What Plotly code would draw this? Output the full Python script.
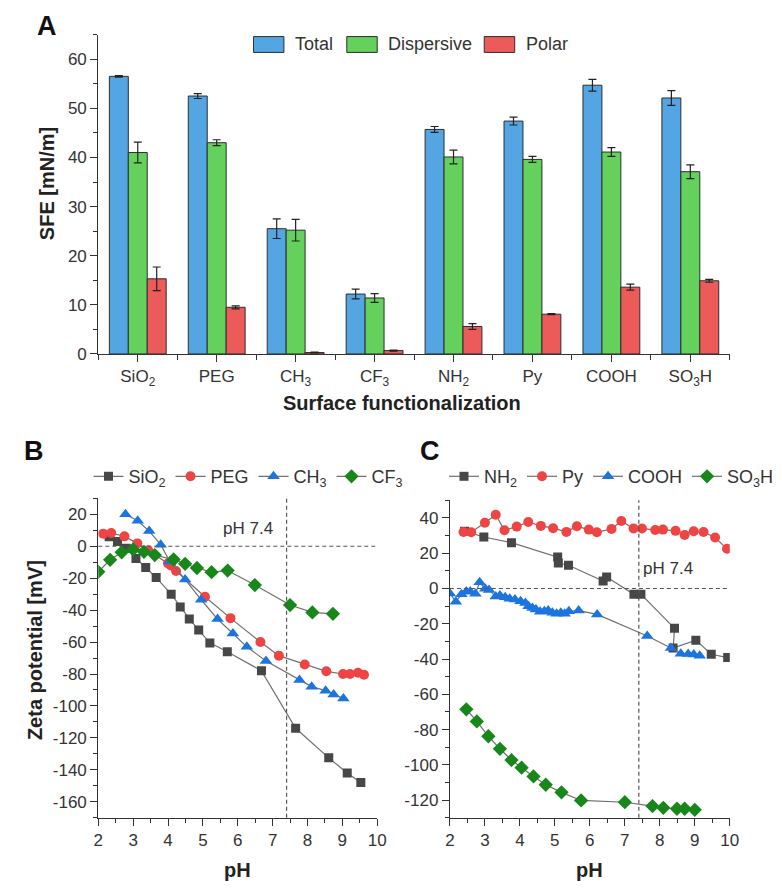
import plotly.graph_objects as go

W, H = 782, 893

# ---- panel A : surface free energy ----
categories = ["SiO<sub>2</sub>", "PEG", "CH<sub>3</sub>", "CF<sub>3</sub>",
              "NH<sub>2</sub>", "Py", "COOH", "SO<sub>3</sub>H"]
sfe_total = [56.5, 52.5, 25.5, 12.2, 45.7, 47.4, 54.7, 52.1]
sfe_total_err = [0.15, 0.5, 2.0, 1.0, 0.6, 0.8, 1.2, 1.5]
sfe_disp = [41.0, 43.0, 25.2, 11.4, 40.1, 39.6, 41.1, 37.1]
sfe_disp_err = [2.1, 0.6, 2.2, 0.9, 1.4, 0.6, 0.9, 1.4]
sfe_polar = [15.3, 9.5, 0.3, 0.7, 5.6, 8.1, 13.6, 14.9]
sfe_polar_err = [2.4, 0.3, 0.1, 0.1, 0.6, 0.1, 0.6, 0.3]

# ---- panel B : zeta potential ----
sio2_ph = [2.31, 2.55, 2.80, 3.08, 3.36, 3.66, 4.09, 4.35, 4.61, 4.88, 5.20, 5.70, 6.68, 7.66, 8.61, 9.14, 9.53]
sio2_zeta = [6.0, 3.0, -1.2, -7.6, -13.3, -19.6, -30.0, -38.0, -45.5, -52.5, -60.5, -66.0, -78.0, -114.0, -132.5, -142.0, -148.0]
peg_ph = [2.14, 2.37, 2.75, 3.12, 3.43, 4.00, 4.08, 4.23, 5.06, 5.79, 6.65, 7.18, 7.92, 8.54, 9.02, 9.22, 9.45, 9.62]
peg_zeta = [7.9, 8.3, 6.2, 1.8, -2.5, -10.7, -12.0, -15.5, -31.6, -45.0, -60.0, -68.5, -74.0, -78.3, -80.0, -80.0, -79.2, -80.5]
ch3_ph = [2.78, 3.13, 3.46, 3.79, 4.05, 4.49, 4.95, 5.42, 5.86, 6.26, 6.81, 7.77, 8.12, 8.52, 8.75, 9.03]
ch3_zeta = [20.0, 16.0, 9.5, 1.0, -9.5, -20.8, -33.5, -45.6, -54.6, -63.0, -71.8, -83.7, -87.9, -90.4, -92.8, -95.3]
cf3_ph = [2.00, 2.34, 2.67, 3.00, 3.31, 3.62, 4.16, 4.49, 4.83, 5.25, 5.71, 6.49, 7.50, 8.14, 8.73]
cf3_zeta = [-16.0, -8.5, -3.8, -2.0, -3.5, -5.5, -8.3, -11.0, -13.6, -16.2, -15.2, -24.3, -36.8, -41.4, -42.3]

# ---- panel C : zeta potential ----
nh2_ph = [2.42, 2.97, 3.76, 5.08, 5.10, 5.39, 6.38, 6.48, 7.26, 7.46, 8.42, 8.38, 9.03, 9.47, 9.94]
nh2_zeta = [32.5, 29.2, 26.0, 17.8, 14.4, 13.2, 4.3, 6.5, -3.3, -3.2, -22.6, -33.8, -29.3, -37.3, -39.2]
py_ph = [2.39, 2.61, 3.00, 3.31, 3.56, 3.91, 4.24, 4.60, 4.95, 5.33, 5.63, 5.97, 6.20, 6.62, 6.90,
         7.25, 7.49, 7.87, 8.09, 8.45, 8.71, 8.97, 9.25, 9.58, 9.92]
py_zeta = [32.0, 31.9, 37.3, 41.8, 33.0, 35.1, 37.7, 35.5, 34.2, 32.1, 35.3, 33.4, 31.9, 33.8, 38.3,
           34.0, 34.0, 33.2, 33.4, 32.7, 30.4, 32.5, 32.0, 28.9, 22.5]
cooh_ph = [2.00, 2.17, 2.33, 2.47, 2.58, 2.73, 2.85, 3.01, 3.12, 3.31, 3.43, 3.58, 3.71, 3.86, 4.02,
           4.16, 4.25, 4.36, 4.46, 4.58, 4.70, 4.81, 4.93, 5.05, 5.17, 5.28, 5.40, 5.68, 6.21,
           7.64, 8.32, 8.60, 8.81, 8.97, 9.14]
cooh_zeta = [-2.8, -7.5, -3.3, -1.7, -1.7, -3.0, 3.5, -0.2, -0.8, -4.5, -3.9, -5.0, -5.8, -6.3, -7.3,
             -8.2, -10.1, -11.0, -11.9, -13.2, -12.9, -12.5, -13.8, -14.3, -13.8, -14.3, -12.9, -12.5, -14.7,
             -26.9, -33.7, -37.0, -37.1, -37.5, -38.2]
so3h_ph = [2.47, 2.77, 3.10, 3.43, 3.76, 4.05, 4.39, 4.74, 5.19, 5.75, 7.00, 7.79, 8.10, 8.49, 8.71, 9.00]
so3h_zeta = [-68.5, -75.4, -83.8, -90.9, -97.3, -101.6, -106.6, -111.3, -115.6, -120.2, -121.2,
             -123.4, -124.4, -124.9, -124.9, -125.5]

ph_ticks = list(range(2, 11))
zeta_b_ticks = list(range(-160, 21, 20))
zeta_c_ticks = list(range(-120, 41, 20))


def px(x):
    return x / W


def py(y):
    return 1 - y / H


FONT = "Liberation Sans, Arial, sans-serif"
AX = "#333333"
LINE = "#707070"

fig = go.Figure()

# bars
xpos = list(range(len(categories)))
bar_specs = [("Total", sfe_total, sfe_total_err, "#53a6e2"),
             ("Dispersive", sfe_disp, sfe_disp_err, "#63d15b"),
             ("Polar", sfe_polar, sfe_polar_err, "#ec5a5a")]
for name, vals, errs, col in bar_specs:
    fig.add_trace(go.Bar(
        x=xpos, y=vals, name=name, showlegend=False,
        marker=dict(color=col, line=dict(color="#2e2e2e", width=1)),
        error_y=dict(type="data", array=errs, color="#222222", thickness=1.2, width=4),
        xaxis="x", yaxis="y"))

# zeta series
def zeta_trace(x, y, name, symbol, color, size, axis, legend):
    return go.Scatter(
        x=x, y=y, name=name, mode="lines+markers",
        line=dict(color=LINE, width=1.2),
        marker=dict(symbol=symbol, color=color, size=size),
        xaxis="x" + axis, yaxis="y" + axis, legend=legend)

fig.add_trace(zeta_trace(sio2_ph, sio2_zeta, "SiO<sub>2</sub>", "square", "#474747", 9, "2", "legend2"))
fig.add_trace(zeta_trace(peg_ph, peg_zeta, "PEG", "circle", "#ef4444", 10, "2", "legend2"))
fig.add_trace(zeta_trace(ch3_ph, ch3_zeta, "CH<sub>3</sub>", "triangle-up", "#1c74e0", 11, "2", "legend2"))
fig.add_trace(zeta_trace(cf3_ph, cf3_zeta, "CF<sub>3</sub>", "diamond", "#17871a", 11, "2", "legend2"))

fig.add_trace(zeta_trace(nh2_ph, nh2_zeta, "NH<sub>2</sub>", "square", "#474747", 9, "3", "legend3"))
fig.add_trace(zeta_trace(py_ph, py_zeta, "Py", "circle", "#ef4444", 10, "3", "legend3"))
fig.add_trace(zeta_trace(cooh_ph, cooh_zeta, "COOH", "triangle-up", "#1c74e0", 11, "3", "legend3"))
fig.add_trace(zeta_trace(so3h_ph, so3h_zeta, "SO<sub>3</sub>H", "diamond", "#17871a", 11, "3", "legend3"))

axis_common = dict(showline=True, linecolor=AX, linewidth=1.2, showgrid=False, zeroline=False,
                   ticks="outside", ticklen=7, tickwidth=1.2, tickcolor=AX,
                   tickfont=dict(size=17, color="#333333"))

fig.update_layout(
    width=W, height=H,
    margin=dict(l=0, r=0, t=0, b=0),
    plot_bgcolor="white", paper_bgcolor="white",
    font=dict(family=FONT, color="#222222"),
    barmode="group", bargap=0.28, bargroupgap=0,
    xaxis=dict(domain=[px(95), px(738)], range=[-0.5, 7.5], anchor="y",
               tickmode="array", tickvals=xpos, ticktext=categories,
               minor=dict(tick0=-0.5, dtick=1, ticks="outside", ticklen=5, tickcolor=AX),
               **axis_common),
    yaxis=dict(domain=[py(358), py(35)], range=[0, 65], anchor="x", dtick=10,
               minor=dict(dtick=5, ticks="outside", ticklen=4, tickcolor=AX),
               **axis_common),
    xaxis2=dict(domain=[px(95), px(379)], range=[2, 10], anchor="y2",
                tickmode="array", tickvals=ph_ticks,
                minor=dict(dtick=0.5, ticks="outside", ticklen=4, tickcolor=AX),
                **axis_common),
    yaxis2=dict(domain=[py(827), py(504)], range=[-170, 30], anchor="x2",
                tickmode="array", tickvals=zeta_b_ticks, ticktext=[str(v) for v in zeta_b_ticks],
                minor=dict(dtick=10, ticks="outside", ticklen=4, tickcolor=AX),
                **axis_common),
    xaxis3=dict(domain=[px(453), px(738)], range=[2, 10], anchor="y3",
                tickmode="array", tickvals=ph_ticks,
                minor=dict(dtick=0.5, ticks="outside", ticklen=4, tickcolor=AX),
                **axis_common),
    yaxis3=dict(domain=[py(827), py(506)], range=[-130, 50], anchor="x3",
                tickmode="array", tickvals=zeta_c_ticks, ticktext=[str(v) for v in zeta_c_ticks],
                minor=dict(dtick=10, ticks="outside", ticklen=4, tickcolor=AX),
                **axis_common),
    legend2=dict(orientation="h", x=px(85), y=py(482), xanchor="left", yanchor="middle",
                 font=dict(size=18, color="#333333"), bgcolor="rgba(0,0,0,0)", itemwidth=30),
    legend3=dict(orientation="h", x=px(447), y=py(482), xanchor="left", yanchor="middle",
                 font=dict(size=18, color="#333333"), bgcolor="rgba(0,0,0,0)", itemwidth=30),
)

# reference lines (pH 7.4 and zero)
dash = dict(color="#555555", width=1.2, dash="4px,3px")
for ax in ["2", "3"]:
    fig.add_shape(type="line", xref="x" + ax, yref="y" + ax + " domain", x0=7.4, x1=7.4, y0=0, y1=1, line=dash)
    fig.add_shape(type="line", xref="x" + ax + " domain", yref="y" + ax, x0=0, x1=1, y0=0, y1=0, line=dash)

fig.add_annotation(x=7.4, y=11, xref="x2", yref="y2", text="pH 7.4", showarrow=False,
                   xanchor="right", xshift=-12, font=dict(size=17, color="#333333"))
fig.add_annotation(x=7.4, y=11.5, xref="x3", yref="y3", text="pH 7.4", showarrow=False,
                   xanchor="left", xshift=2, font=dict(size=17, color="#333333"))

# manual legend for panel A (wide boxes)
legend_a = [("Total", "#53a6e2", 253, 293), ("Dispersive", "#63d15b", 348, 388), ("Polar", "#ec5a5a", 488, 528)]
for label, col, bx, tx in legend_a:
    fig.add_shape(type="rect", xref="paper", yref="paper", x0=px(bx), x1=px(bx + 31),
                  y0=py(53), y1=py(37), fillcolor=col, line=dict(color="#2e2e2e", width=1))
    fig.add_annotation(x=px(tx), y=py(45), xref="paper", yref="paper", text=label, showarrow=False,
                       xanchor="left", yanchor="middle", font=dict(size=18, color="#333333"))

# axis titles and panel letters
title_font = dict(size=20, color="#222222", family=FONT)
titles = [
    ("<b>SFE [mN/m]</b>", 43, 186, -90),
    ("<b>Surface functionalization</b>", 404, 408, 0),
    ("<b>Zeta potential [mV]</b>", 30, 657, -90),
    ("<b>pH</b>", 237, 880, 0),
    ("<b>pH</b>", 595, 880, 0),
]
for text, x, y, ang in titles:
    fig.add_annotation(x=px(x), y=py(y), xref="paper", yref="paper", text=text, showarrow=False,
                       textangle=ang, xanchor="center", yanchor="middle", font=title_font)

for letter, x, y in [("A", 43, 26), ("B", 30, 456), ("C", 433, 456)]:
    fig.add_annotation(x=px(x), y=py(y), xref="paper", yref="paper", text="<b>%s</b>" % letter,
                       showarrow=False, xanchor="center", yanchor="middle",
                       font=dict(size=27, color="#111111", family=FONT))

# drop the default page margin so the figure sits at the window origin
fig.write_html("out.html", config={"displayModeBar": False},
               post_script="document.body.style.margin='0';document.body.style.overflow='hidden';")
